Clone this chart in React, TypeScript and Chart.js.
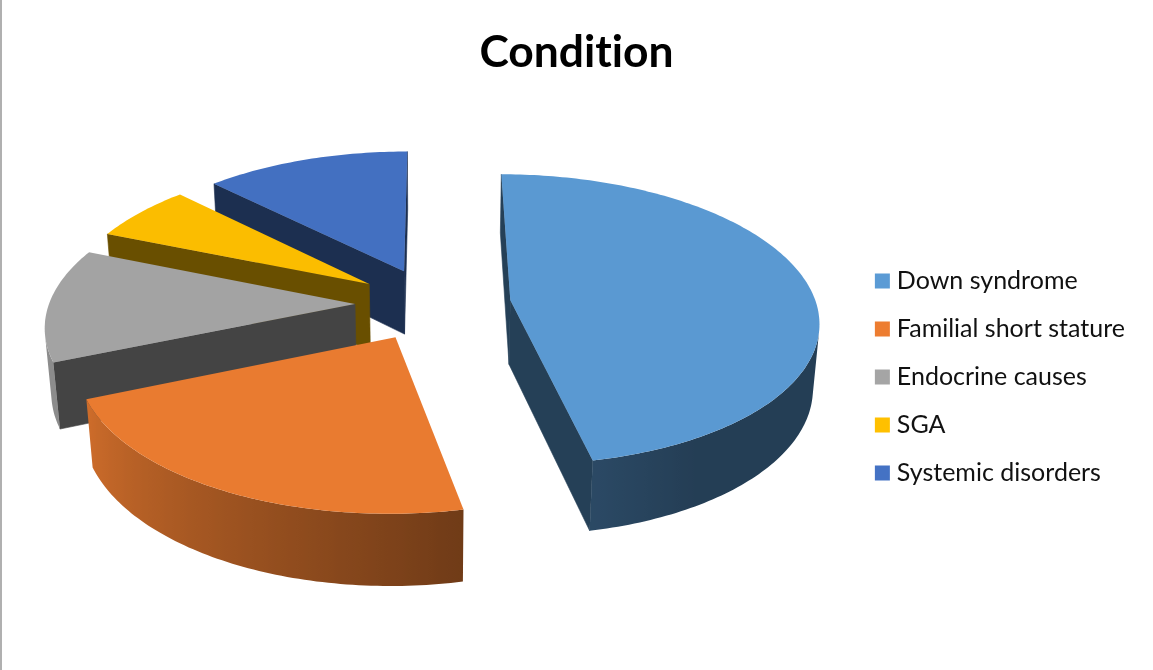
import React, { useEffect, useRef } from "react";
import { Chart, registerables } from "chart.js";

Chart.register(...registerables);

const categories = ["Down syndrome", "Familial short stature", "Endocrine causes", "SGA", "Systemic disorders"];
const shares = [46.75, 21.95, 12.5, 6.3, 12.5];
const sliceColors = ["#5B9BD5", "#ED7D31", "#A5A5A5", "#FFC000", "#4472C4"];

// Camera for the tilted, exploded pie.
const VIEW = {
  cx: 433,
  cy: 304,
  radius: 306,
  explodeBy: 78,
  thickness: 74,
  sinE: 0.469,
  cosE: 0.883,
  distance: 2050,
};

type Pt = [number, number];

function project(X: number, Y: number, Z: number): Pt {
  const s = VIEW.distance / (VIEW.distance - (Y * VIEW.cosE + Z * VIEW.sinE));
  return [VIEW.cx + X * s, VIEW.cy + (Y * VIEW.sinE - Z * VIEW.cosE) * s];
}

function shade(hex: string, f: number): string {
  const n = parseInt(hex.slice(1), 16);
  const c = [(n >> 16) & 255, (n >> 8) & 255, n & 255].map((v) => Math.round(v * f));
  return `rgb(${c[0]},${c[1]},${c[2]})`;
}

// Brightness of the outer wall, lit from the left of the pie.
function rimLight(angle: number): number {
  let clock = ((angle + Math.PI / 2) * 180) / Math.PI;
  clock = ((clock % 360) + 360) % 360;
  if (clock <= 150) return 0.4;
  if (clock <= 168) return 0.4 + ((clock - 150) / 18) * 0.07;
  if (clock <= 247) return 0.47 + ((clock - 168) / 79) * 0.4;
  return 0.85;
}

function tracePath(ctx: CanvasRenderingContext2D, pts: Pt[]) {
  ctx.beginPath();
  pts.forEach((p, i) => (i ? ctx.lineTo(p[0], p[1]) : ctx.moveTo(p[0], p[1])));
  ctx.closePath();
}

function signedArea(q: Pt[]): number {
  let area = 0;
  q.forEach((p, i) => {
    const n = q[(i + 1) % q.length];
    area += p[0] * n[1] - n[0] * p[1];
  });
  return area;
}

function drawWedge(ctx: CanvasRenderingContext2D, arc: any) {
  const { startAngle, endAngle } = arc;
  const base: string = arc.options.backgroundColor;
  const mid = (startAngle + endAngle) / 2;
  const ox = Math.cos(mid) * VIEW.explodeBy;
  const oy = Math.sin(mid) * VIEW.explodeBy;

  const steps = Math.max(8, Math.ceil(((endAngle - startAngle) * 180) / Math.PI));
  const outline: { a: number; x: number; y: number }[] = [];
  for (let i = 0; i <= steps; i++) {
    const a = startAngle + ((endAngle - startAngle) * i) / steps;
    outline.push({ a, x: ox + Math.cos(a) * VIEW.radius, y: oy + Math.sin(a) * VIEW.radius });
  }
  const upper = (x: number, y: number) => project(x, y, 0);
  const lower = (x: number, y: number) => project(x, y, -VIEW.thickness);

  // Straight cut faces, shown only when they turn towards the camera.
  const cutFace = (x1: number, y1: number, x2: number, y2: number) => {
    const q = [upper(x1, y1), upper(x2, y2), lower(x2, y2), lower(x1, y1)];
    if (signedArea(q) < 0) {
      tracePath(ctx, q);
      ctx.fillStyle = shade(base, 0.41);
      ctx.strokeStyle = ctx.fillStyle;
      ctx.lineWidth = 0.6;
      ctx.fill();
      ctx.stroke();
    }
  };
  const first = outline[0];
  const last = outline[outline.length - 1];
  cutFace(ox, oy, first.x, first.y);
  cutFace(last.x, last.y, ox, oy);

  // Outer wall: the visible run of the rim as one shape with a left-to-right gradient.
  let from = -1;
  let to = -1;
  for (let i = 0; i < steps; i++) {
    const p = outline[i];
    const n = outline[i + 1];
    if (signedArea([upper(p.x, p.y), upper(n.x, n.y), lower(n.x, n.y), lower(p.x, p.y)]) < 0) {
      if (from < 0) from = i;
      to = i + 1;
    }
  }
  if (from >= 0) {
    const run = outline.slice(from, to + 1);
    const tops = run.map((p) => upper(p.x, p.y));
    const bottoms = run.map((p) => lower(p.x, p.y));
    const xs = [...tops, ...bottoms].map((p) => p[0]);
    const x0 = Math.min(...xs);
    const x1 = Math.max(...xs);
    const gradient = ctx.createLinearGradient(x0, 0, x1, 0);
    run.forEach((p, i) => {
      gradient.addColorStop((tops[i][0] - x0) / (x1 - x0), shade(base, rimLight(p.a)));
    });
    tracePath(ctx, [...tops, ...bottoms.reverse()]);
    ctx.fillStyle = gradient;
    ctx.fill();
  }

  const top: Pt[] = [upper(ox, oy), ...outline.map((p) => upper(p.x, p.y))];
  tracePath(ctx, top);
  ctx.fillStyle = shade(base, 0.985);
  ctx.fill();
}

const pie3d = {
  id: "pie3d",
  beforeDraw(chart: any) {
    // Plain glyph runs, so "ti" stays two letters.
    chart.ctx.textRendering = "optimizeSpeed";
  },
  afterLayout(chart: any) {
    chart.legend.top += 42;
    chart.legend.bottom += 42;
  },
  beforeDatasetDraw(chart: any, args: any) {
    const ctx = chart.ctx;
    const arcs = [...chart.getDatasetMeta(args.index).data];
    // Far slices first so the nearer ones overlap them.
    const depth = (a: any) => Math.sin((a.startAngle + a.endAngle) / 2);
    arcs.sort((a, b) => depth(a) - depth(b));
    ctx.save();
    arcs.forEach((arc) => drawWedge(ctx, arc));
    ctx.restore();
    return false;
  },
};

export default function App() {
  const ref = useRef<HTMLCanvasElement>(null);
  useEffect(() => {
    document.body.style.margin = "0";
    const chart = new Chart(ref.current!, {
      type: "pie",
      plugins: [pie3d],
      data: {
        labels: categories,
        datasets: [{ data: shares, backgroundColor: sliceColors, borderWidth: 0 }],
      },
      options: {
        responsive: false,
        animation: false,
        layout: { padding: { left: 18, right: 18 } },
        plugins: {
          tooltip: { enabled: false },
          title: {
            display: true,
            text: "Condition",
            color: "#000",
            font: { family: "Lato", size: 44.4, weight: "bold", lineHeight: 1 },
            padding: { top: 30, bottom: 28 },
          },
          legend: {
            position: "right",
            labels: {
              color: "#111",
              usePointStyle: true,
              pointStyle: "rect",
              boxWidth: 4,
              boxHeight: 15,
              padding: 23,
              font: { family: "Lato", size: 25, lineHeight: 1 },
            },
          },
        },
      },
    });
    return () => chart.destroy();
  }, []);
  return (
    <div style={{ position: "relative", width: 1153, height: 670, background: "#fff" }}>
      <canvas ref={ref} width={1153} height={670} style={{ display: "block" }} />
      <div style={{ position: "absolute", left: 0, top: 0, width: 2, height: 670, background: "#b0b0b0" }} />
    </div>
  );
}
